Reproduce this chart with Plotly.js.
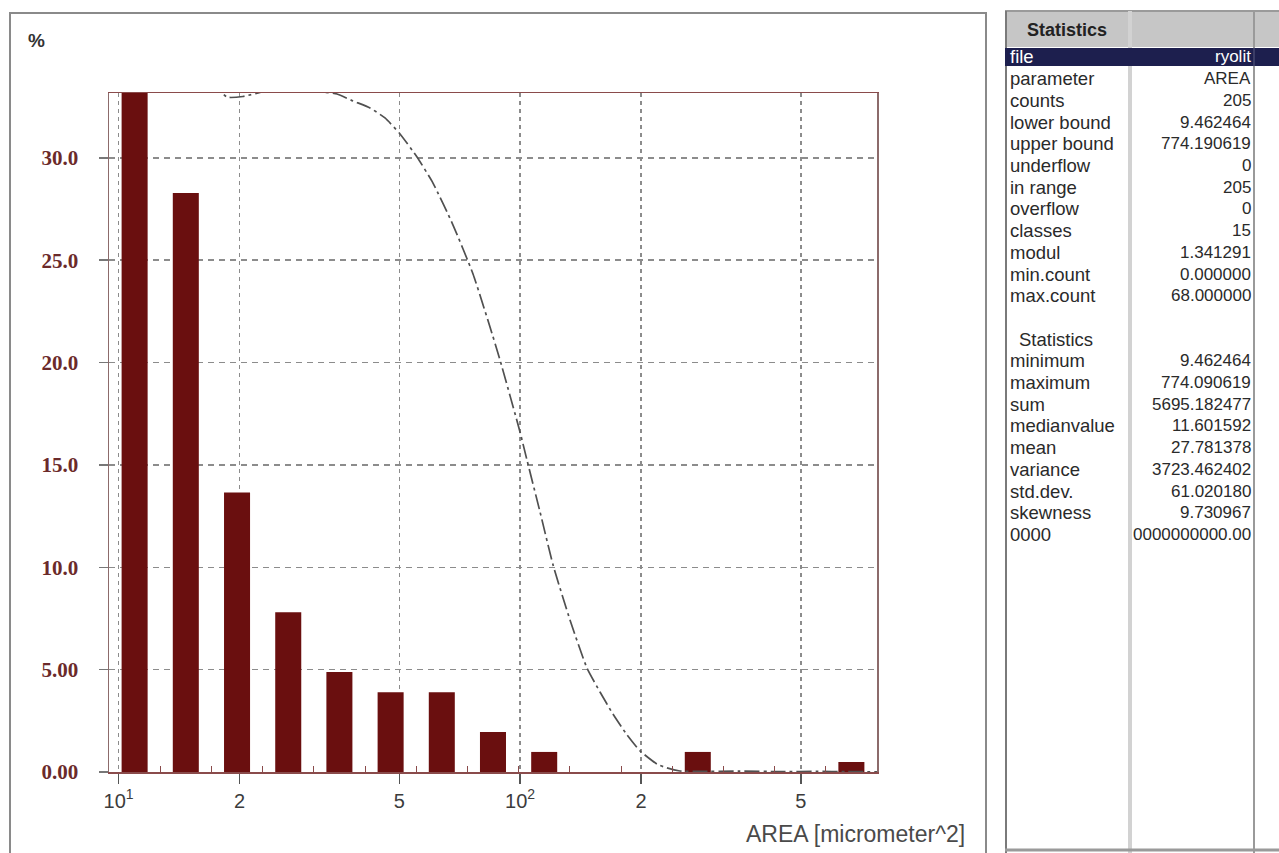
<!DOCTYPE html>
<html>
<head>
<meta charset="utf-8">
<script src="https://cdn.plot.ly/plotly-3.0.1.min.js"></script>
<style>html,body{margin:0;padding:0;background:#fff;}#chart{width:1279px;height:853px;}</style>
</head>
<body>
<div id="chart"></div>
<script>
// ---------- data ----------
const lowerBound = 9.462464;
const upperBound = 774.190619;
const classCount = 15;
const classCenters = [10.96, 14.70, 19.72, 26.45, 35.47, 47.58, 63.81, 85.58, 114.8, 154.0, 206.5, 277.0, 371.6, 498.3, 668.4];
const classPercent = [33.17, 28.29, 13.66, 7.80, 4.88, 3.90, 3.90, 1.95, 0.98, 0, 0, 0.98, 0, 0, 0.49];

const curveX = [17.0, 18.62, 20.40, 23.7, 28.2, 32.2, 34.99, 38.35, 42.28, 46.07, 50.22, 55.36, 60.67, 68.05, 76.32, 84.13, 89.09, 99.93, 104.0, 112.1, 120.8, 133.1, 146.7, 158.1, 170.3, 184.6, 198.9, 219.2, 232.1, 250.1, 280.5, 350, 450, 550, 650, 774];
const curveY = [33.8, 32.97, 33.0, 33.3, 33.35, 33.22, 33.12, 32.78, 32.44, 31.95, 31.17, 30.04, 28.77, 26.72, 24.33, 21.74, 20.13, 16.61, 15.24, 12.70, 10.11, 7.43, 5.08, 3.91, 2.83, 1.81, 1.03, 0.39, 0.20, 0.05, 0.03, 0.04, 0.02, 0.03, 0.02, 0.01];

const xTickVals = [10, 20, 50, 100, 200, 500];
const xTickText = ['10<sup>1</sup>', '2', '5', '10<sup>2</sup>', '2', '5'];
const yTickVals = [0, 5, 10, 15, 20, 25, 30];
const yTickText = ['0.00', '5.00', '10.0', '15.0', '20.0', '25.0', '30.0'];

const yUnit = '%';
const xTitle = 'AREA [micrometer^2]';
const tableHeader = 'Statistics';
const statLabels = ['file', 'parameter', 'counts', 'lower bound', 'upper bound', 'underflow', 'in range', 'overflow', 'classes', 'modul', 'min.count', 'max.count', '', 'Statistics', 'minimum', 'maximum', 'sum', 'medianvalue', 'mean', 'variance', 'std.dev.', 'skewness', '0000'];
const statValues = ['ryolit', 'AREA', '205', '9.462464', '774.190619', '0', '205', '0', '15', '1.341291', '0.000000', '68.000000', '', '', '9.462464', '774.090619', '5695.182477', '11.601592', '27.781378', '3723.462402', '61.020180', '9.730967', '0000000000.00'];

// ---------- geometry helpers (pixel -> paper) ----------
const W = 1279, H = 853;
const M = {l: 109, r: 402, t: 93, b: 81};
const PW = W - M.l - M.r, PH = H - M.t - M.b;
const X = p => (p - M.l) / PW;
const Y = p => (H - M.b - p) / PH;

// bars: constant width in log space
const halfLog = 0.0324;
const barLeft = classCenters.map(c => c * Math.pow(10, -halfLog));
const barRight = classCenters.map(c => c * Math.pow(10, halfLog));
const barWidth = barRight.map((r, i) => r - barLeft[i]);
const barOffset = barLeft.map((l, i) => l - classCenters[i]);

const ratio = upperBound / lowerBound;
const classEdges = [];
for (let k = 1; k < classCount; k++) classEdges.push(lowerBound * Math.pow(ratio, k / classCount));

const traces = [
  {
    type: 'bar', x: classCenters, y: classPercent,
    width: barWidth, offset: barOffset,
    marker: {color: '#6a0f0f', line: {width: 0}},
    hoverinfo: 'skip'
  },
  {
    type: 'scatter', mode: 'lines', x: curveX, y: curveY,
    line: {color: '#505050', width: 1.7, dash: '15px,4px,3px,4px', shape: 'spline', smoothing: 0.5},
    hoverinfo: 'skip'
  }
];

const shapes = [
  {type: 'rect', xref: 'paper', yref: 'paper', x0: X(10), x1: X(986), y0: Y(870), y1: Y(13), line: {color: '#8a8a8a', width: 2}, fillcolor: 'rgba(0,0,0,0)', layer: 'below'},
  {type: 'rect', xref: 'paper', yref: 'paper', x0: X(1005), x1: X(1285), y0: Y(47), y1: Y(11), line: {width: 0}, fillcolor: '#c6c6c6'},
  {type: 'line', xref: 'paper', yref: 'paper', x0: X(1005), x1: X(1285), y0: Y(11), y1: Y(11), line: {color: '#9a9a9a', width: 2}},
  {type: 'line', xref: 'paper', yref: 'paper', x0: X(1006), x1: X(1006), y0: Y(11), y1: Y(860), line: {color: '#7a7a7a', width: 2}},
  {type: 'line', xref: 'paper', yref: 'paper', x0: X(1130), x1: X(1130), y0: Y(11), y1: Y(860), line: {color: '#d2d2d2', width: 4}},
  {type: 'line', xref: 'paper', yref: 'paper', x0: X(1254), x1: X(1254), y0: Y(11), y1: Y(860), line: {color: '#9a9a9a', width: 2}},
  {type: 'rect', xref: 'paper', yref: 'paper', x0: X(1005), x1: X(1285), y0: Y(66), y1: Y(48), line: {width: 0}, fillcolor: '#1d1f4e'},
  {type: 'line', xref: 'paper', yref: 'paper', x0: X(1254), x1: X(1254), y0: Y(48), y1: Y(66), line: {color: '#5a5c80', width: 1}},
  {type: 'line', xref: 'paper', yref: 'paper', x0: X(1005), x1: X(1285), y0: Y(850), y1: Y(850), line: {color: '#9a9a9a', width: 3}}
];

const annotations = [
  {xref: 'paper', yref: 'paper', x: X(26), y: Y(40), xanchor: 'left', yanchor: 'middle', text: yUnit, showarrow: false,
   font: {family: 'Liberation Sans, Arial, sans-serif', size: 19, color: '#333', weight: 'bold'}},
  {xref: 'paper', yref: 'paper', x: X(967), y: Y(834), xanchor: 'right', yanchor: 'middle', text: xTitle, showarrow: false,
   font: {family: 'Liberation Sans, Arial, sans-serif', size: 23, color: '#4a4a4a'}},
  {xref: 'paper', yref: 'paper', x: X(1067), y: Y(30), xanchor: 'center', yanchor: 'middle', text: tableHeader, showarrow: false,
   font: {family: 'Liberation Sans, Arial, sans-serif', size: 18, color: '#222', weight: 'bold'}}
];

const rowStep = 21.7;
statLabels.forEach((lab, i) => {
  const yc = 57 + i * rowStep;
  const col = i === 0 ? '#ffffff' : '#2a2a2a';
  if (lab) {
    annotations.push({xref: 'paper', yref: 'paper', x: X(i === 13 ? 1017 : 1008), y: Y(yc), xanchor: 'left', yanchor: 'middle',
      text: lab, showarrow: false, font: {family: 'Liberation Sans, Arial, sans-serif', size: 18.5, color: col}});
  }
  if (statValues[i]) {
    annotations.push({xref: 'paper', yref: 'paper', x: X(1253), y: Y(yc), xanchor: 'right', yanchor: 'middle',
      text: statValues[i], showarrow: false, font: {family: 'Liberation Sans, Arial, sans-serif', size: 17, color: col}});
  }
});

const layout = {
  width: W, height: H,
  margin: M,
  paper_bgcolor: '#ffffff', plot_bgcolor: '#ffffff',
  showlegend: false,
  xaxis: {
    type: 'log',
    range: [Math.log10(lowerBound), Math.log10(upperBound)],
    tickmode: 'array', tickvals: xTickVals, ticktext: xTickText,
    ticks: 'outside', ticklen: 10, tickwidth: 1.5, tickcolor: '#555',
    ticklabelstandoff: 0,
    tickfont: {family: 'Liberation Sans, Arial, sans-serif', size: 20, color: '#3c3c3c'},
    showgrid: true, gridcolor: '#8c8c8c', gridwidth: 1.5, griddash: '4px,4px',
    showline: true, linecolor: '#8a4b4b', linewidth: 1.5, mirror: true,
    zeroline: false,
    minor: {tickmode: 'array', tickvals: classEdges, ticks: 'inside', ticklen: 6, tickwidth: 1, tickcolor: '#8a4b4b', showgrid: false}
  },
  yaxis: {
    range: [0, 33.17],
    tickmode: 'array', tickvals: yTickVals, ticktext: yTickText,
    ticks: 'outside', ticklen: 9, tickwidth: 1.5, tickcolor: '#777',
    ticklabelstandoff: 16,
    tickfont: {family: 'Liberation Serif, Times New Roman, serif', size: 21, color: '#6b2a2a', weight: 'bold'},
    showgrid: true, gridcolor: '#8c8c8c', gridwidth: 1.5, griddash: '6px,5px',
    showline: true, linecolor: '#8c6b6b', linewidth: 1.5, mirror: true,
    zeroline: false
  },
  shapes: shapes,
  annotations: annotations
};

Plotly.newPlot('chart', traces, layout, {staticPlot: true, displayModeBar: false});
</script>
</body>
</html>
